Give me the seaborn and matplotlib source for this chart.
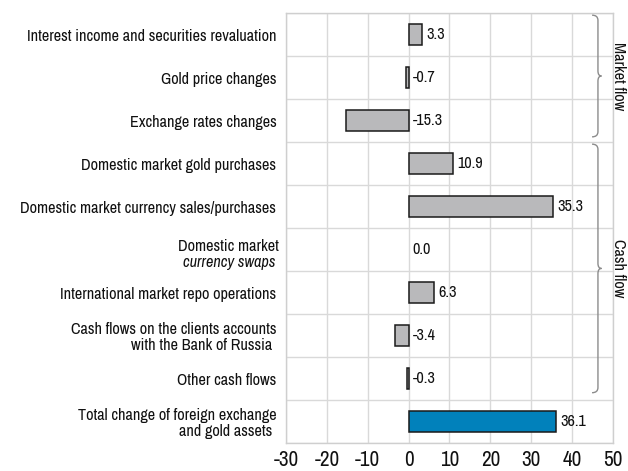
import matplotlib
matplotlib.use("Agg")
import matplotlib.pyplot as plt
import seaborn as sns
import pandas as pd
from matplotlib.path import Path
from matplotlib.patches import PathPatch
import matplotlib.transforms as mtransforms
from matplotlib import font_manager as fm

categories = [
    "Interest income and securities revaluation",
    "Gold price changes",
    "Exchange rates changes",
    "Domestic market gold purchases",
    "Domestic market currency sales/purchases",
    "Domestic market currency swaps",
    "International market repo operations",
    "Cash flows on the clients accounts\nwith the Bank of Russia ",
    "Other cash flows",
    "Total change of foreign exchange\nand gold assets ",
]
# the swaps label is drawn in two parts: plain line and italic line
split_labels = {5: ("Domestic market", "currency swaps ")}
values = [3.3, -0.7, -15.3, 10.9, 35.3, 0.0, 6.3, -3.4, -0.3, 36.1]
kinds = ["flow"] * 9 + ["total"]
xticks = [-30, -20, -10, 0, 10, 20, 30, 40, 50]
groups = [("Market flow", 0, 2), ("Cash flow", 3, 8)]

sns.set_theme(style="white")


def _stretch(f):
    s = f.stretch
    if isinstance(s, str):
        return {"ultra-condensed": 100, "extra-condensed": 200, "condensed": 300,
                "semi-condensed": 400, "normal": 500}.get(s, 500)
    return s


def find_font():
    regs, itas = [], []
    for f in fm.fontManager.ttflist:
        narrow = ("Narrow" in f.name or "Condensed" in f.name
                  or "Narrow" in f.fname or "Condensed" in f.fname
                  or _stretch(f) < 500)
        if not narrow or "Mono" in f.name or "Serif" in f.name:
            continue
        w = f.weight if isinstance(f.weight, int) else (400 if f.weight == "normal" else 700)
        if w != 400:
            continue
        if f.style == "normal":
            regs.append(f)
        else:
            itas.append(f)
    if regs:
        regs.sort(key=lambda f: (_stretch(f), f.name))
        r = regs[0]
        it = [f for f in itas if f.name == r.name and _stretch(f) == _stretch(r)]
        return r.fname, (it[0].fname if it else None)
    return None, None


reg_path, ita_path = find_font()
if reg_path:
    base_fp = fm.FontProperties(fname=reg_path)
    ita_fp = fm.FontProperties(fname=ita_path) if ita_path else fm.FontProperties(
        family=base_fp.get_name(), style="italic")
else:
    base_fp = fm.FontProperties(family=["Liberation Sans", "DejaVu Sans"])
    ita_fp = fm.FontProperties(family=["Liberation Sans", "DejaVu Sans"], style="italic")

df = pd.DataFrame({"category": categories, "value": values, "kind": kinds})

fig = plt.figure(figsize=(6.28, 4.71), dpi=100)
ax = fig.add_axes([0.4554, 0.0594, 0.5207, 0.913])

sns.barplot(data=df, y="category", x="value", hue="kind", orient="h",
            palette={"flow": "#b9b9bb", "total": "#0181bb"},
            width=0.5, dodge=False, legend=False, ax=ax,
            edgecolor="#1a1a1a", linewidth=1.1, saturation=1)
for p in ax.patches:
    if abs(p.get_width()) < 1e-9:
        p.set_visible(False)

ax.set_xlim(-30, 50)
ax.set_ylim(len(categories) - 0.5, -0.5)
ax.set_xticks(xticks)
ax.set_xlabel("")
ax.set_ylabel("")
ax.set_yticks(range(len(categories)))
ax.set_yticks([i + 0.5 for i in range(-1, len(categories))], minor=True)
ax.grid(False)
ax.grid(True, axis="x", which="major", color="#d9d9d9", lw=1)
ax.grid(True, axis="y", which="minor", color="#d9d9d9", lw=1)
ax.set_axisbelow(True)
ax.tick_params(axis="y", which="both", length=0, pad=7)
ax.tick_params(axis="x", length=0, pad=5)
for s in ax.spines.values():
    s.set_color("#cfcfcf")
    s.set_linewidth(1)

# fit the font size so the longest label spans ~251 px
renderer = fig.canvas.get_renderer()
probe = fig.text(0, 0, categories[0], fontproperties=base_fp)
probe.set_fontsize(10)
w10 = probe.get_window_extent(renderer).width
probe.remove()
fs = min(13.5, 10 * 251 / w10)
tick_fs = fs * 1.3

lab_fp = base_fp.copy()
lab_fp.set_size(fs)
tick_fp = base_fp.copy()
tick_fp.set_size(tick_fs)
it_fp = ita_fp.copy()
it_fp.set_size(fs)

shown = [("" if i in split_labels else c) for i, c in enumerate(categories)]
ax.set_yticklabels(shown, fontproperties=lab_fp, color="#111111", linespacing=1.1)
ax.set_xticklabels([str(t) for t in xticks], fontproperties=tick_fp, color="#111111")

lab_off = mtransforms.offset_copy(
    mtransforms.blended_transform_factory(ax.transAxes, ax.transData),
    fig=fig, x=-7, y=0, units="dots")
for i, (l1, l2) in split_labels.items():
    ax.text(0, i - 0.08, l1, transform=lab_off, ha="right", va="center",
            fontproperties=lab_fp, color="#111111")
    ax.text(0, i + 0.31, l2, transform=lab_off, ha="right", va="center",
            fontproperties=it_fp, color="#111111")

off = mtransforms.offset_copy(ax.transData, fig=fig, x=4, y=0, units="dots")
for i, v in enumerate(values):
    ax.text(max(v, 0), i, f"{v:.1f}", transform=off, ha="left", va="center",
            fontproperties=lab_fp, color="#111111")

# curly braces
bt = mtransforms.blended_transform_factory(ax.transAxes, ax.transData)
x0 = 0.954
dx = 0.018
for label, a, b in groups:
    top = a - 0.45
    bot = b + 0.38 if a == 0 else b + 0.33
    mid = (top + bot) / 2
    r = 0.12
    verts = [
        (x0 - dx, top), (x0, top), (x0, top + r),
        (x0, mid - r),
        (x0, mid), (x0 + dx * 0.6, mid),
        (x0, mid), (x0, mid + r),
        (x0, bot - r),
        (x0, bot), (x0 - dx, bot),
    ]
    codes = [Path.MOVETO, Path.CURVE3, Path.CURVE3,
             Path.LINETO,
             Path.CURVE3, Path.CURVE3,
             Path.CURVE3, Path.CURVE3,
             Path.LINETO,
             Path.CURVE3, Path.CURVE3]
    ax.add_patch(PathPatch(Path(verts, codes), transform=bt, fill=False,
                           edgecolor="#8c8c8c", lw=1.0, clip_on=False))
    ax.text(1.017, mid, label, transform=bt, rotation=270, ha="center",
            va="center", fontproperties=lab_fp, color="#111111", clip_on=False)

fig.savefig("out.png", dpi=100)
